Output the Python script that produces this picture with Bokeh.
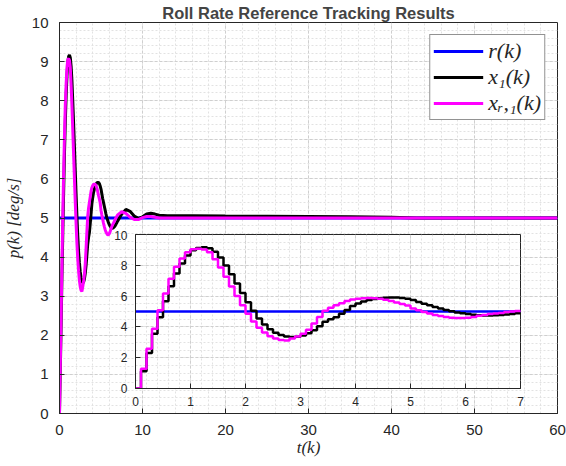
import numpy as np
from bokeh.plotting import figure
from bokeh.models import SingleIntervalTicker, Legend, LegendItem, Range1d
from bokeh.layouts import column
from bokeh.embed import file_html
from bokeh.resources import INLINE

TITLE = "Roll Rate Reference Tracking Results"
X_LABEL = "t(k)"
Y_LABEL = "p(k) [deg/s]"
LABELS = ["r(k)", "x\u2081(k)", "x\u1d63,\u2081(k)"]

# sampled responses, sample time 0.1 s, t = 0.0 ... 7.0
dt = 0.1
x1_samples = [
    0.00, 1.12, 2.30, 3.55, 4.63, 5.67, 6.64, 7.47, 8.12, 8.64,
    8.98, 9.13, 9.17, 9.10, 8.88, 8.50, 7.98, 7.42, 6.82, 6.20,
    5.60, 5.05, 4.55, 4.15, 3.85, 3.62, 3.47, 3.38, 3.34, 3.36,
    3.44, 3.58, 3.78, 4.05, 4.33, 4.50, 4.62, 4.85, 5.10, 5.36,
    5.52, 5.65, 5.74, 5.81, 5.86, 5.90, 5.91, 5.91, 5.88, 5.82,
    5.74, 5.62, 5.50, 5.40, 5.30, 5.20, 5.10, 5.01, 4.94, 4.88,
    4.83, 4.79, 4.76, 4.74, 4.74, 4.75, 4.77, 4.80, 4.84, 4.88,
    4.92,
]
xr1_samples = [
    0.00, 1.28, 2.58, 3.88, 5.08, 6.17, 7.12, 7.90, 8.44, 8.85,
    9.05, 9.08, 9.03, 8.85, 8.40, 7.85, 7.25, 6.62, 6.00, 5.40,
    4.85, 4.35, 3.95, 3.64, 3.40, 3.24, 3.15, 3.12, 3.24, 3.38,
    3.56, 3.82, 4.22, 4.65, 5.05, 5.25, 5.40, 5.54, 5.68, 5.78,
    5.83, 5.86, 5.87, 5.86, 5.83, 5.77, 5.68, 5.58, 5.49, 5.39,
    5.20, 5.08, 4.97, 4.87, 4.78, 4.70, 4.64, 4.60, 4.57, 4.57,
    4.60, 4.65, 4.72, 4.78, 4.83, 4.87, 4.91, 4.96, 5.00, 5.04,
    5.08,
]
# later part of the run
t_tail = [7.5, 8.0, 8.5, 9.0, 9.5, 10.0, 10.5, 11.0, 11.5, 12.0, 13.0, 14.0,
          16.0, 20.0, 25.0, 30.0, 35.0, 40.0, 43.0, 50.0, 60.0]
x1_tail = [5.10, 5.22, 5.17, 5.05, 4.99, 5.03, 5.10, 5.12, 5.10, 5.07, 5.06, 5.06,
           5.06, 5.05, 5.045, 5.04, 5.03, 5.02, 5.00, 5.00, 5.00]
xr1_tail = [5.16, 5.12, 5.02, 4.96, 4.96, 5.01, 5.04, 5.04, 5.02, 5.00, 5.00, 5.00,
            5.00, 5.00, 5.00, 5.00, 5.00, 5.00, 5.00, 5.00, 5.00]
r_value = 5.0
t_span = [0.0, 60.0]
inset_span = [0.0, 7.0]

t_samples = list(np.round(np.arange(len(x1_samples)) * dt, 1))
t_main = t_samples + t_tail
x1_main = x1_samples + x1_tail
xr1_main = xr1_samples + xr1_tail

BLUE, BLACK, MAGENTA = "#0000ff", "#000000", "#ff00ff"
AX = "#262626"
TICK_FONT = "Liberation Sans"
SERIF = "Liberation Serif"


def style_axes(fig, fs, standoff):
    for ax in (fig.xaxis[0], fig.yaxis[0]):
        ax.axis_line_color = AX
        ax.major_tick_line_color = AX
        ax.major_tick_in = 5
        ax.major_tick_out = 0
        ax.minor_tick_line_color = None
        ax.major_label_text_font = TICK_FONT
        ax.major_label_text_font_size = fs
        ax.major_label_text_color = AX
        ax.major_label_standoff = standoff
    for g in (fig.xgrid[0], fig.ygrid[0]):
        g.grid_line_color = "#cfcfcf"
        g.grid_line_dash = "3 2"
        g.minor_grid_line_color = "#e2e2e2"
        g.minor_grid_line_dash = "2 2"
    fig.outline_line_color = AX
    fig.outline_line_width = 1
    fig.outline_line_alpha = 1


BL, BR = 57, 9
p = figure(width=566, height=466, x_range=Range1d(*t_span), y_range=Range1d(0, 10),
           output_backend="svg", toolbar_location=None, title=TITLE,
           min_border_left=BL, min_border_right=BR, min_border_top=21, min_border_bottom=53)
p.xaxis.ticker = SingleIntervalTicker(interval=10, num_minor_ticks=5)
p.yaxis.ticker = SingleIntervalTicker(interval=1, num_minor_ticks=5)
style_axes(p, "15px", 7)
p.xaxis.axis_label = X_LABEL
p.yaxis.axis_label = Y_LABEL
for ax in (p.xaxis[0], p.yaxis[0]):
    ax.axis_label_text_font = SERIF
    ax.axis_label_text_font_style = "italic"
    ax.axis_label_text_font_size = "17px"
    ax.axis_label_text_color = AX
p.xaxis.axis_label_standoff = 0
p.yaxis.axis_label_standoff = 6
p.title.text_font = TICK_FONT
p.title.text_font_style = "bold"
p.title.text_font_size = "16.5px"
p.title.align = "center"
p.title.standoff = 2

rb = p.line(t_span, [r_value, r_value], color=BLUE, line_width=3)
kb = p.line(t_main, x1_main, color=BLACK, line_width=3)
mb = p.line(t_main, xr1_main, color=MAGENTA, line_width=3)

legend = Legend(items=[LegendItem(label=LABELS[0], renderers=[rb]),
                       LegendItem(label=LABELS[1], renderers=[kb]),
                       LegendItem(label=LABELS[2], renderers=[mb])],
                location="top_right")
legend.border_line_color = AX
legend.border_line_width = 1
legend.background_fill_color = "white"
legend.background_fill_alpha = 1
legend.label_text_font = SERIF
legend.label_text_font_style = "italic"
legend.label_text_font_size = "22px"
legend.label_text_color = AX
legend.glyph_width = 50
legend.glyph_height = 20
legend.label_height = 20
legend.label_standoff = 5
legend.spacing = 0
legend.padding = 3
legend.margin = 12
p.add_layout(legend)

# inset (its frame borders follow the main figure's in the column)
IN_W = 387 + BL + BR
inset = figure(width=IN_W, height=182, x_range=Range1d(*inset_span), y_range=Range1d(0, 10),
               output_backend="svg", toolbar_location=None,
               min_border_left=BL, min_border_right=BR, min_border_top=4, min_border_bottom=24,
               styles={"position": "absolute", "left": "76px", "top": "230px"})
inset.xaxis.ticker = SingleIntervalTicker(interval=1, num_minor_ticks=5)
inset.yaxis.ticker = SingleIntervalTicker(interval=2, num_minor_ticks=4)
style_axes(inset, "12px", 4)
inset.border_fill_alpha = 0
inset.background_fill_color = "white"
inset.line(inset_span, [r_value, r_value], color=BLUE, line_width=2.5)
inset.step(t_samples, x1_samples, mode="after", color=BLACK, line_width=2.5)
inset.step(t_samples, xr1_samples, mode="after", color=MAGENTA, line_width=2.5)

layout = column(p, inset, width=566, height=466)
open("out.html", "w").write(file_html(layout, INLINE))
